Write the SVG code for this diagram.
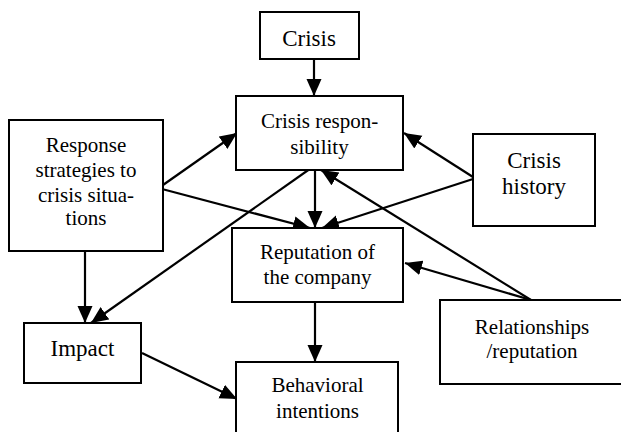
<svg xmlns="http://www.w3.org/2000/svg" width="621" height="432" viewBox="0 0 621 432">
<defs>
<style>
.box{fill:#fff;stroke:#000;stroke-width:2}
.t{font-family:"Liberation Serif","DejaVu Serif",serif;font-size:21px;text-anchor:middle;fill:#000}
.tl{font-size:23px}
.c{stroke:#000;stroke-width:2.2;fill:none;marker-end:url(#ah)}
</style>
<marker id="ah" markerUnits="userSpaceOnUse" markerWidth="18" markerHeight="16" refX="17" refY="7.5" orient="auto">
<path d="M0,0 L17,7.5 L0,15 z" fill="#000"/>
</marker>
</defs>
<rect width="621" height="432" fill="#fff"/>
<g id="connectors">
<line class="c" x1="314" y1="59" x2="314" y2="96"/>
<line class="c" x1="163" y1="185" x2="237" y2="133"/>
<line class="c" x1="162" y1="189" x2="310" y2="228"/>
<line class="c" x1="473" y1="177" x2="404" y2="133"/>
<line class="c" x1="473" y1="179" x2="322" y2="228"/>
<line class="c" x1="315" y1="170" x2="315" y2="228"/>
<line class="c" x1="314" y1="166" x2="91" y2="323"/>
<line class="c" x1="85" y1="251" x2="85" y2="323"/>
<line class="c" x1="531" y1="300" x2="321" y2="170"/>
<line class="c" x1="531" y1="300" x2="405" y2="263"/>
<line class="c" x1="315" y1="302" x2="315" y2="362"/>
<line class="c" x1="142" y1="353" x2="237" y2="399"/>
</g>
<g id="crisis">
<rect class="box" x="260" y="12" width="99" height="47"/>
<text class="t tl" x="309" y="46">Crisis</text>
</g>
<g id="crisis-responsibility">
<rect class="box" x="236" y="96" width="167" height="74"/>
<text class="t" x="319.5" y="128">Crisis respon-</text>
<text class="t" x="319.5" y="154">sibility</text>
</g>
<g id="response-strategies">
<rect class="box" x="9" y="120" width="154" height="131"/>
<text class="t" x="86" y="152">Response</text>
<text class="t" x="86" y="177">strategies to</text>
<text class="t" x="86" y="202">crisis situa-</text>
<text class="t" x="86" y="225">tions</text>
</g>
<g id="crisis-history">
<rect class="box" x="473" y="134" width="122" height="92"/>
<text class="t tl" x="534" y="168">Crisis</text>
<text class="t tl" x="534" y="194">history</text>
</g>
<g id="reputation">
<rect class="box" x="232" y="228" width="171" height="74"/>
<text class="t" x="317.5" y="259">Reputation of</text>
<text class="t" x="317.5" y="284">the company</text>
</g>
<g id="impact">
<rect class="box" x="24" y="323" width="117" height="60"/>
<text class="t tl" x="82.5" y="356">Impact</text>
</g>
<g id="behavioral-intentions">
<rect class="box" x="236" y="362" width="162" height="80"/>
<text class="t" x="317.5" y="392">Behavioral</text>
<text class="t" x="317.5" y="418">intentions</text>
</g>
<g id="relationships">
<rect class="box" x="440" y="300" width="184" height="84"/>
<text class="t" x="532" y="334">Relationships</text>
<text class="t" x="532" y="358">/reputation</text>
</g>
</svg>
